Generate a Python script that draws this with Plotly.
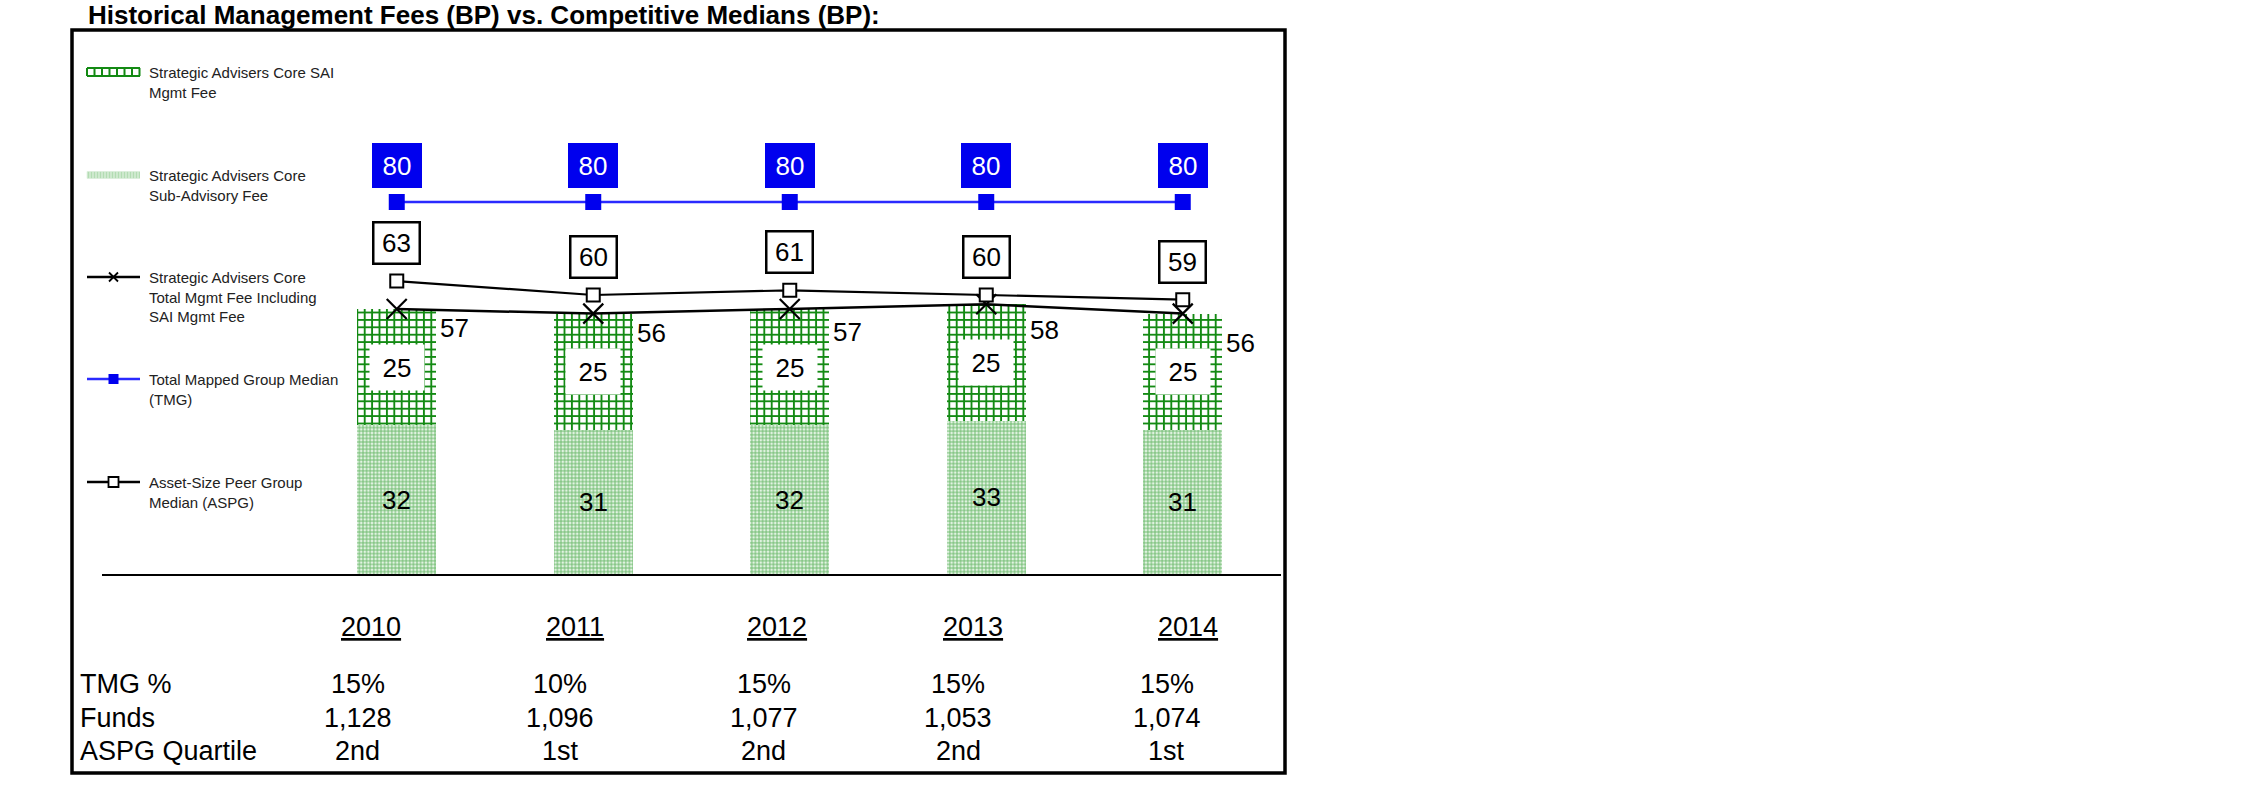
import plotly.graph_objects as go

# ---------------- data ----------------
years = ["2010", "2011", "2012", "2013", "2014"]
sub_advisory_fee = [32, 31, 32, 33, 31]
sai_mgmt_fee = [25, 25, 25, 25, 25]
total_mgmt_fee = [57, 56, 57, 58, 56]
tmg_median = [80, 80, 80, 80, 80]
aspg_median = [63, 60, 61, 60, 59]

row_labels = ["TMG %", "Funds", "ASPG Quartile"]
tmg_pct = ["15%", "10%", "15%", "15%", "15%"]
funds = ["1,128", "1,096", "1,077", "1,053", "1,074"]
aspg_quartile = ["2nd", "1st", "2nd", "2nd", "1st"]

legend_labels = [
    "Strategic Advisers Core SAI<br>Mgmt Fee",
    "Strategic Advisers Core<br>Sub-Advisory Fee",
    "Strategic Advisers Core<br>Total Mgmt Fee Including<br>SAI Mgmt Fee",
    "Total Mapped Group Median<br>(TMG)",
    "Asset-Size Peer Group<br>Median (ASPG)",
]
title_text = "Historical Management Fees (BP) vs. Competitive Medians (BP):"

# ---------------- layout geometry (pixels) ----------------
FIG_W, FIG_H = 2251, 798
L, RP, T, B = 102, 1281, 109, 574
W, H = RP - L, B - T
FONT = "Liberation Sans, Arial, sans-serif"


def px(xp):
    return (xp - L) / W


def py(yp):
    return (B - yp) / H


YEAR_DX = [-26, -18, -13, -13, 5]
TABLE_DX = [-39, -33, -26, -28, -16]
TOT_DY = [-19, -19, -23, -26, -29]
ROW_Y = [684, 718, 751]

xs = list(range(len(years)))

fig = go.Figure()

fig.add_trace(go.Bar(
    x=xs, y=sub_advisory_fee, width=0.4, name="Sub-Advisory Fee",
    marker=dict(
        color="#b9e0b9", line=dict(width=0),
        pattern=dict(shape="+", size=3.6, solidity=0.45, fgcolor="#6cba6c",
                     bgcolor="#e2f3e2", fillmode="replace"),
    ),
    hoverinfo="skip",
))
fig.add_trace(go.Bar(
    x=xs, y=sai_mgmt_fee, width=0.4, name="SAI Mgmt Fee",
    marker=dict(
        color="#138a13", line=dict(width=0),
        pattern=dict(shape="+", size=7.4, solidity=0.45, fgcolor="#138a13",
                     bgcolor="white", fillmode="replace"),
    ),
    hoverinfo="skip",
))
fig.add_trace(go.Scatter(
    x=xs, y=total_mgmt_fee, mode="lines+markers", name="Total Mgmt Fee",
    line=dict(color="black", width=2.5),
    marker=dict(symbol="x-thin", size=20, color="black", line=dict(color="black", width=2.2)),
    cliponaxis=False,
))
fig.add_trace(go.Scatter(
    x=xs, y=aspg_median, mode="lines+markers", name="ASPG",
    line=dict(color="black", width=2.2),
    marker=dict(symbol="square", size=13, color="white", line=dict(color="black", width=2)),
    cliponaxis=False,
))
fig.add_trace(go.Scatter(
    x=xs, y=tmg_median, mode="lines+markers", name="TMG",
    line=dict(color="#2a2aff", width=2.5),
    marker=dict(symbol="square", size=16, color="#0000ee", line=dict(width=0)),
    cliponaxis=False,
))

ann = []
LABEL_FS = 26
for i in xs:
    ann.append(dict(x=i, y=sub_advisory_fee[i] / 2, xref="x", yref="y", text=str(sub_advisory_fee[i]),
                    showarrow=False, font=dict(size=LABEL_FS, color="black", family=FONT)))
    ann.append(dict(x=i, y=sub_advisory_fee[i] + sai_mgmt_fee[i] / 2, xref="x", yref="y",
                    text=str(sai_mgmt_fee[i]), showarrow=False, bgcolor="white",
                    width=50, height=41, borderpad=2,
                    font=dict(size=LABEL_FS, color="black", family=FONT)))
    ann.append(dict(x=i, y=total_mgmt_fee[i], xref="x", yref="y", text=str(total_mgmt_fee[i]),
                    showarrow=False, xshift=58, yshift=TOT_DY[i],
                    font=dict(size=LABEL_FS, color="black", family=FONT)))
    ann.append(dict(x=i, y=aspg_median[i], xref="x", yref="y", text=str(aspg_median[i]),
                    showarrow=False, yshift=38, bgcolor="white", bordercolor="black",
                    borderwidth=2.5, width=42, height=37, borderpad=1,
                    font=dict(size=LABEL_FS, color="black", family=FONT)))
    ann.append(dict(x=i, y=tmg_median[i], xref="x", yref="y", text=str(tmg_median[i]),
                    showarrow=False, yshift=37, bgcolor="#0000ee", bordercolor="#0000ee",
                    borderwidth=0, width=46, height=41, borderpad=2,
                    font=dict(size=LABEL_FS, color="white", family=FONT)))
    ann.append(dict(x=i, y=py(627), xref="x", yref="paper", text="<u>" + years[i] + "</u>",
                    showarrow=False, xshift=YEAR_DX[i], yanchor="middle",
                    font=dict(size=27, color="black", family=FONT)))
    for r, vals in enumerate([tmg_pct, funds, aspg_quartile]):
        ann.append(dict(x=i, y=py(ROW_Y[r]), xref="x", yref="paper", text=vals[i],
                        showarrow=False, xshift=TABLE_DX[i], yanchor="middle",
                        font=dict(size=27, color="black", family=FONT)))

for r, lab in enumerate(row_labels):
    ann.append(dict(x=px(78), y=py(ROW_Y[r]), xref="paper", yref="paper", text=lab,
                    showarrow=False, xanchor="left", yanchor="middle",
                    font=dict(size=27, color="black", family=FONT)))

ann.append(dict(x=px(86), y=py(15), xref="paper", yref="paper", text="<b>" + title_text + "</b>",
                showarrow=False, xanchor="left", yanchor="middle",
                font=dict(size=26, color="black", family=FONT)))

# ---------------- manual legend ----------------
LEG_Y = [72, 175, 277, 379, 482]
SX0, SX1, SXC = 87, 140, 113.5
shapes = []


def seg(x0, y0, x1, y1):
    return "M%f,%f L%f,%f " % (px(x0), py(y0), px(x1), py(y1))


y = LEG_Y[0]
path = seg(SX0, y - 4, SX1, y - 4) + seg(SX0, y + 4, SX1, y + 4)
k = 0
while SX0 + k * 7.5 <= SX1 + 0.1:
    xx = SX0 + k * 7.5
    path += seg(xx, y - 4, xx, y + 4)
    k += 1
shapes.append(dict(type="path", xref="paper", yref="paper", path=path,
                   line=dict(color="#138a13", width=2)))
y = LEG_Y[1]
shapes.append(dict(type="rect", xref="paper", yref="paper", x0=px(SX0), x1=px(SX1),
                   y0=py(y + 3.5), y1=py(y - 3.5), fillcolor="#b3dcb3", line=dict(width=0)))
path = ""
for k in range(0, 54, 3):
    path += seg(SX0 + k, y - 3.5, SX0 + k, y + 3.5)
shapes.append(dict(type="path", xref="paper", yref="paper", path=path,
                   line=dict(color="#e8f5e8", width=1)))
y = LEG_Y[2]
shapes.append(dict(type="line", xref="paper", yref="paper", x0=px(SX0), x1=px(SX1),
                   y0=py(y), y1=py(y), line=dict(color="black", width=2.5)))
shapes.append(dict(type="path", xref="paper", yref="paper",
                   path=seg(SXC - 4.5, y - 4.5, SXC + 4.5, y + 4.5) + seg(SXC - 4.5, y + 4.5, SXC + 4.5, y - 4.5),
                   line=dict(color="black", width=1.8)))
y = LEG_Y[3]
shapes.append(dict(type="line", xref="paper", yref="paper", x0=px(SX0), x1=px(SX1),
                   y0=py(y), y1=py(y), line=dict(color="#2a2aff", width=2.5)))
shapes.append(dict(type="rect", xref="paper", yref="paper", x0=px(SXC - 5), x1=px(SXC + 5),
                   y0=py(y + 5), y1=py(y - 5), fillcolor="#0000ee", line=dict(width=0)))
y = LEG_Y[4]
shapes.append(dict(type="line", xref="paper", yref="paper", x0=px(SX0), x1=px(SX1),
                   y0=py(y), y1=py(y), line=dict(color="black", width=2.5)))
shapes.append(dict(type="rect", xref="paper", yref="paper", x0=px(SXC - 5), x1=px(SXC + 5),
                   y0=py(y + 5), y1=py(y - 5), fillcolor="white", line=dict(color="black", width=1.8)))

for j, lab in enumerate(legend_labels):
    ann.append(dict(x=px(147), y=py(LEG_Y[j] - 10), xref="paper", yref="paper", text=lab,
                    showarrow=False, xanchor="left", yanchor="top", align="left",
                    font=dict(size=15, color="#222222", family=FONT)))

shapes.append(dict(type="rect", xref="paper", yref="paper", x0=px(72), x1=px(1285),
                   y0=py(773), y1=py(30), line=dict(color="black", width=3.5), layer="above"))

fig.update_layout(
    width=FIG_W, height=FIG_H,
    margin=dict(l=L, r=FIG_W - RP, t=T, b=FIG_H - B, pad=0),
    paper_bgcolor="white", plot_bgcolor="white",
    barmode="stack", showlegend=False,
    font=dict(family=FONT, color="black"),
    xaxis=dict(range=[-1.5, 4.5], showline=True, linecolor="black", linewidth=2,
               showticklabels=False, ticks="", showgrid=False, zeroline=False, fixedrange=True),
    yaxis=dict(range=[0, 100], visible=False, showgrid=False, zeroline=False, fixedrange=True),
    annotations=ann, shapes=shapes,
)

fig.write_html(
    "out.html",
    config={"displayModeBar": False},
    post_script="document.body.style.margin='0px';document.body.style.overflow='hidden';",
)
